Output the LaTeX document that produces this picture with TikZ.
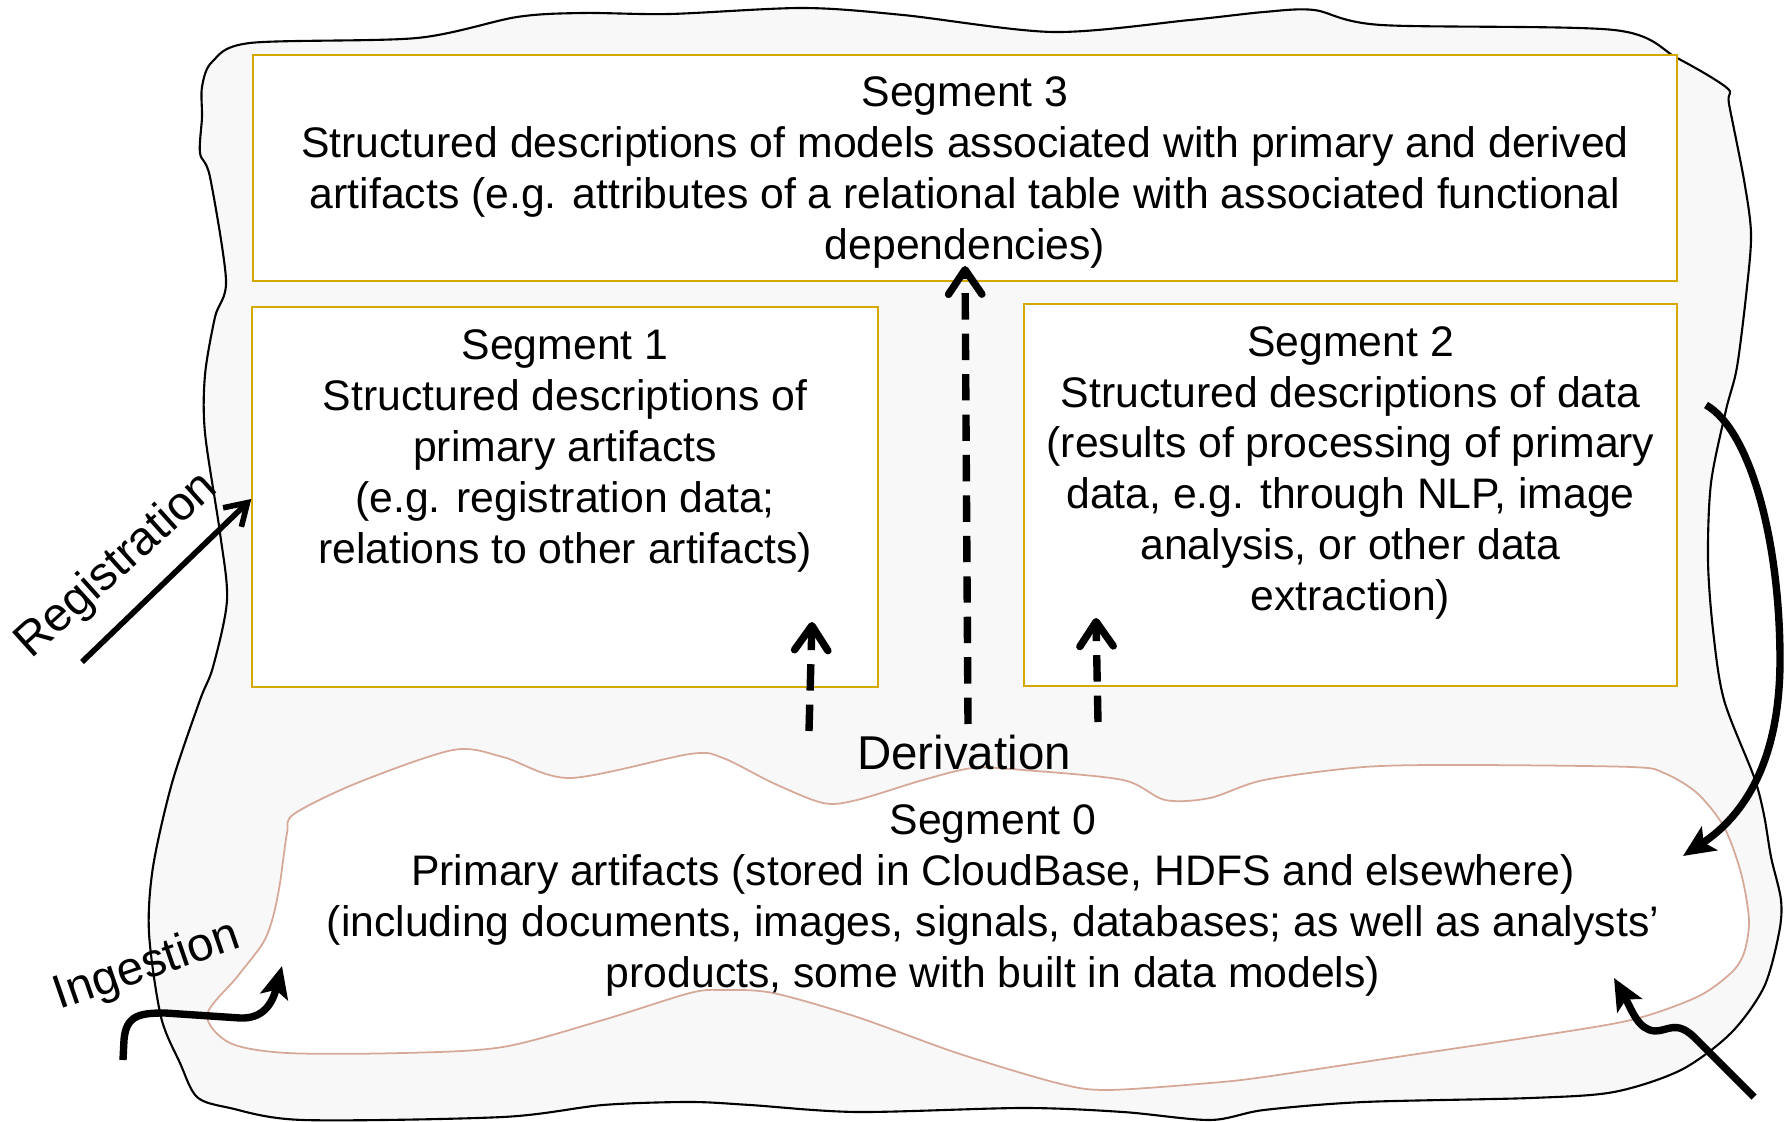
\documentclass[tikz,border=0pt]{standalone}
\usepackage{fontspec}
\setmainfont{Liberation Sans}
\usetikzlibrary{arrows.meta}
\definecolor{segline}{RGB}{214,168,0}
\definecolor{blobfill}{RGB}{248,248,248}
\definecolor{zeroline}{RGB}{214,168,152}

\begin{document}
\begin{tikzpicture}[x=0.01cm,y=-0.01cm,
	segbox/.style={draw=segline,line width=0.6pt,fill=white,inner sep=0pt},
	segtext/.style={align=center,inner sep=0pt,font=\fontsize{12.15pt}{14.5pt}\selectfont},
	flowlabel/.style={inner sep=0pt,font=\fontsize{13.5pt}{16pt}\selectfont},
	derive/.style={line width=2.1pt,dash pattern=on 7.5pt off 4pt,-{Straight Barb[length=7pt,width=9.5pt,round]}},
	feed/.style={line width=2.1pt,-{Stealth[length=9pt,width=8pt,inset=2pt]}}]
	\useasboundingbox (0,0) rectangle (1784,1122);
	% outer area
	\draw [black,line width=0.6pt,fill=blobfill] plot[smooth cycle] coordinates {
		(250,43) (417,38) (517,17) (583,13) (670,14) (803,8) (903,15) (1053,32) (1190,20)
		(1264,12) (1314,10) (1381,25) (1614,30) (1677,58) (1727,88) (1729,104) (1744,180)
		(1751,233) (1747,287) (1737,367) (1726,410) (1711,483) (1708,560) (1713,630) (1724,700)
		(1754,777) (1764,815) (1771,857) (1781,900) (1779,933) (1764,987) (1731,1033)
		(1681,1070) (1614,1092) (1531,1098) (1364,1102) (1264,1110) (1210,1120) (1123,1112)
		(1023,1108) (857,1112) (750,1105) (690,1102) (603,1105) (503,1117) (303,1120)
		(230,1108) (197,1097) (180,1063) (161,1017) (149,933) (153,867) (172,783) (200,700)
		(213,667) (227,600) (220,533) (205,433) (205,375) (215,317) (226,280) (210,177)
		(200,153) (202,117) (202,87) (212,62)};
	% segment 0
	\draw [zeroline,line width=0.5pt,fill=white] plot[smooth cycle] coordinates {
		(294,814) (357,783) (453,750) (503,757) (570,778) (690,754) (723,758) (773,783)
		(823,803) (857,800) (923,780) (973,768) (1023,770) (1123,780) (1165,800) (1210,798)
		(1264,780) (1364,767) (1464,765) (1631,767) (1664,773) (1697,793) (1724,827)
		(1741,873) (1749,920) (1744,953) (1731,973) (1697,997) (1631,1020) (1531,1037)
		(1397,1057) (1264,1077) (1210,1083) (1107,1090) (1057,1083) (957,1053) (857,1017)
		(773,993) (723,990) (690,993) (603,1020) (503,1047) (403,1053) (287,1053)
		(230,1043) (207,1015) (237,977) (263,943) (273,917) (280,883) (287,833)};
	\node [segtext] (s0) at (993,901) {Segment 0\\Primary artifacts (stored in CloudBase, HDFS and elsewhere)\\(including documents, images, signals, databases; as well as analysts’\\products, some with built in data models)};

	\node [segbox,minimum width=14.24cm,minimum height=2.26cm] (b3) at (965,168) {};
	\node [segbox,minimum width=6.25cm,minimum height=3.8cm] (b1) at (565,497) {};
	\node [segbox,minimum width=6.53cm,minimum height=3.81cm] (b2) at (1350.5,495) {};
	\node [segtext] (s3) at (965,173) {Segment 3\\Structured descriptions of models associated with primary and derived\\artifacts (e.g. attributes of a relational table with associated functional\\dependencies)};
	\node [segtext] (s1) at (565,451) {Segment 1\\Structured descriptions of\\primary artifacts\\(e.g. registration data;\\relations to other artifacts)};
	\node [segtext] (s2) at (1350.5,473) {Segment 2\\Structured descriptions of data\\(results of processing of primary\\data, e.g. through NLP, image\\analysis, or other data\\extraction)};

	\node [flowlabel,anchor=base] (der) at (964,770) {Derivation};
	\node [flowlabel,rotate=42] (reg) at (117,566) {Registration};
	\node [flowlabel,rotate=19] (ing) at (147,967) {Ingestion};

	% derivation arrows
	\coordinate (d1a) at (809,731);
	\coordinate (d1b) at (812,622);
	\coordinate (d2a) at (968,724);
	\coordinate (d2b) at (965,266);
	\coordinate (d3a) at (1098,722);
	\coordinate (d3b) at (1096,618);
	\draw [derive] (d1a) -- (d1b);
	\draw [derive] (d2a) -- (d2b);
	\draw [derive] (d3a) -- (d3b);

	% registration
	\coordinate (r0) at (82,662);
	\draw [line width=1.6pt,-{Straight Barb[length=6pt,width=7.5pt]}] (r0) -- (b1.west |- 0,499);

	% ingestion
	\coordinate (i0) at (123,1060);
	\coordinate (i1) at (282,966);
	\draw [feed] (i0) -- (124,1040) .. controls (126,1015) and (140,1013) .. (165,1013)
		-- (240,1018) .. controls (262,1019) and (272,1005) .. (i1);

	% right side
	\coordinate (e0) at (1754,1097);
	\coordinate (e1) at (1614,978);
	\draw [feed] (e0) -- (1694,1037) .. controls (1676,1020) and (1668,1031) .. (1655,1031)
		.. controls (1638,1030) and (1632,1010) .. (e1);
	\coordinate (f0) at (1706,405);
	\coordinate (f1) at (1683,856);
	\draw [feed] (f0) .. controls (1750,430) and (1780,540) .. (1780,660)
		.. controls (1780,760) and (1745,815) .. (f1);
\end{tikzpicture}
\end{document}
